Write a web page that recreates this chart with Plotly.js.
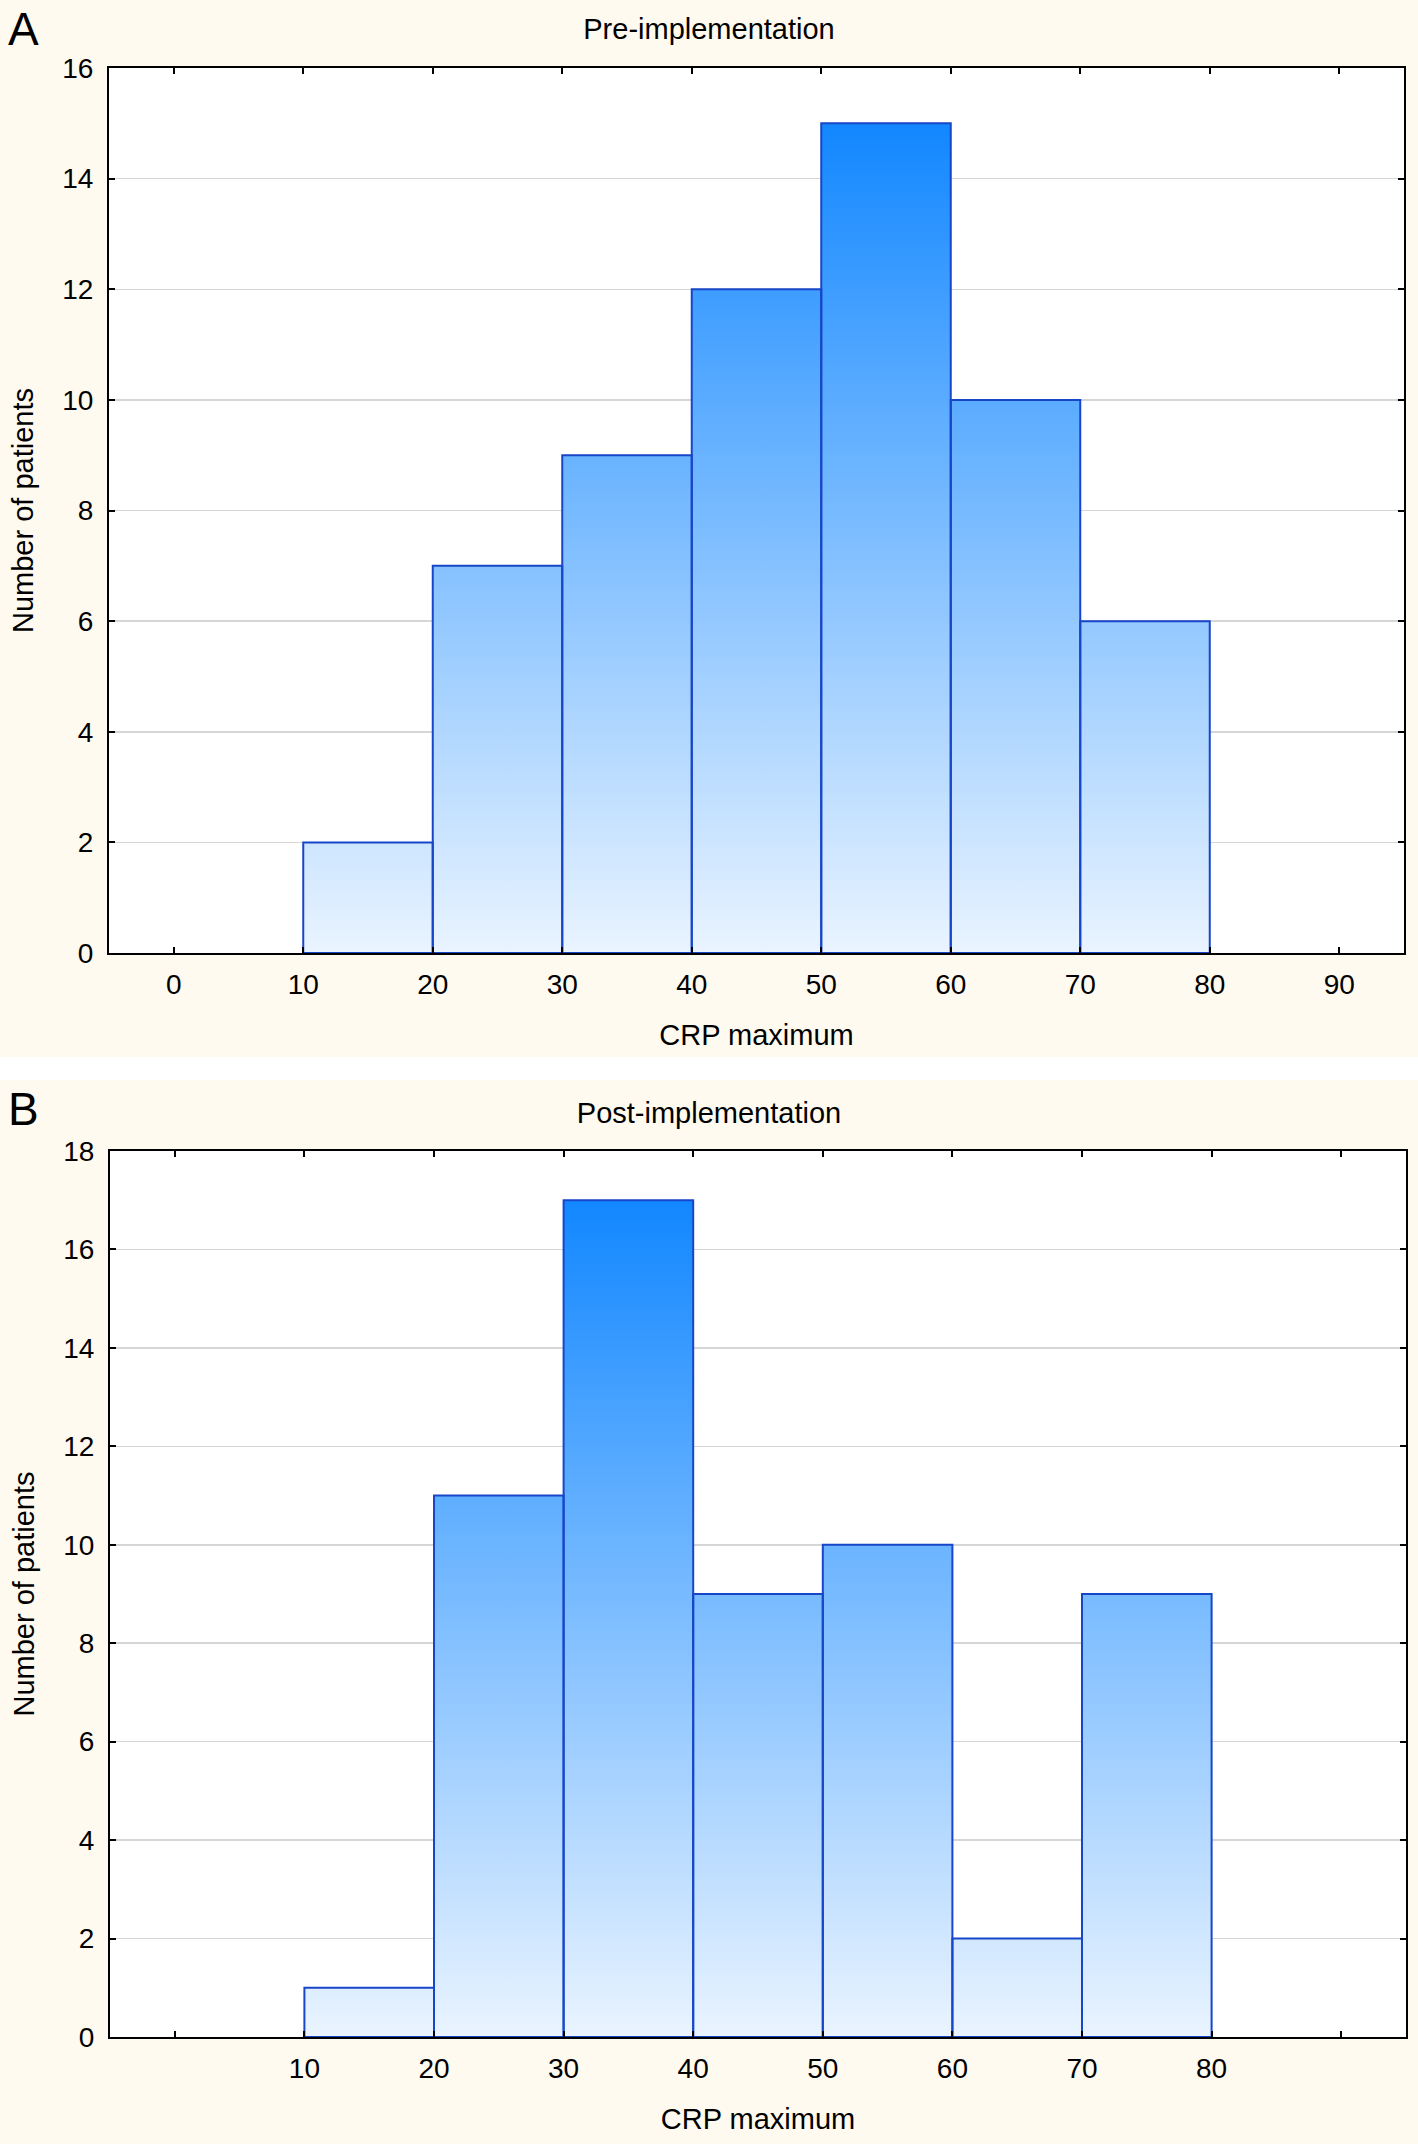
<!DOCTYPE html>
<html>
<head>
<meta charset="utf-8">
<script src="https://cdn.plot.ly/plotly-3.0.1.min.js"></script>
<style>
  body { margin: 0; background: #ffffff; }
  #plotA { width: 1418px; height: 1057px; }
  #gap { height: 23px; }
  #plotB { width: 1418px; height: 1064px; }
</style>
</head>
<body>
<div id="plotA"></div>
<div id="gap"></div>
<div id="plotB"></div>
<script>
// histogram bins (CRP maximum), width 10
const binStarts = [10, 20, 30, 40, 50, 60, 70];
const binWidth = 10;
const preCounts = [2, 7, 9, 12, 15, 10, 6];
const postCounts = [1, 11, 17, 9, 10, 2, 9];
const tickVals = [0, 10, 20, 30, 40, 50, 60, 70, 80, 90];
const preTickText = ["0", "10", "20", "30", "40", "50", "60", "70", "80", "90"];
const postTickText = ["", "10", "20", "30", "40", "50", "60", "70", "80", ""];

const font = "Liberation Sans, Arial, sans-serif";
const cream = "#fffaf0";

// one closed outline per bin, split with nulls so each one is filled on its own
function binOutline(counts) {
    let xs = [], ys = [];
    for (let i = 0; i < counts.length; i++) {
        let lo = binStarts[i], hi = binStarts[i] + binWidth;
        xs.push(lo, lo, hi, hi, lo, null);
        ys.push(0, counts[i], counts[i], 0, 0, null);
    }
    return {x: xs, y: ys};
}

function makeTrace(counts) {
    let p = binOutline(counts);
    return {
        x: p.x, y: p.y, type: "scatter", mode: "lines",
        fill: "toself",
        fillgradient: {
            type: "vertical",
            colorscale: [[0, "#eaf4ff"], [1, "#1287ff"]],
            start: 0, stop: Math.max(...counts)
        },
        line: {color: "#1746c8", width: 2},
        hoverinfo: "skip", showlegend: false
    };
}

function makeLayout(title, letter, ymax, tickText, m, titleY) {
    let h = m.h;
    return {
        width: 1418, height: h,
        paper_bgcolor: cream, plot_bgcolor: "#ffffff",
        margin: {l: m.l, r: m.r, t: m.t, b: m.b, pad: 0},
        font: {family: font, size: 28, color: "#000000"},
        showlegend: false,
        title: {text: title, font: {size: 29}, xref: "container", x: 0.5, yref: "container", y: titleY, yanchor: "middle"},
        xaxis: {
            range: [-5, 95], tickvals: tickVals, ticktext: tickText,
            ticks: "inside", ticklen: 6, tickwidth: 2, tickcolor: "#000",
            showline: true, linecolor: "#000", linewidth: 2, mirror: "ticks",
            showgrid: false, zeroline: false, ticklabelstandoff: 5,
            title: {text: "CRP maximum", font: {size: 29}, standoff: 26},
            automargin: false, fixedrange: true
        },
        yaxis: {
            range: [0, ymax], dtick: 2,
            ticks: "inside", ticklen: 6, tickwidth: 2, tickcolor: "#000",
            showline: true, linecolor: "#000", linewidth: 2, mirror: "ticks",
            showgrid: true, gridcolor: "#d6d6d6", gridwidth: 1.5, zeroline: false,
            ticklabelstandoff: 8,
            title: {text: "Number of patients", font: {size: 29}, standoff: 20},
            automargin: false, fixedrange: true
        },
        annotations: [{
            text: letter, xref: "paper", yref: "paper",
            x: (6 - m.l) / (1418 - m.l - m.r), y: 1 + (m.t - 1) / (h - m.t - m.b),
            xanchor: "left", yanchor: "top", showarrow: false,
            font: {size: 46, family: font}
        }]
    };
}

const config = {displayModeBar: false, staticPlot: true};

Plotly.newPlot("plotA", [makeTrace(preCounts)],
    makeLayout("Pre-implementation", "A", 16, preTickText, {h: 1057, l: 109, r: 14, t: 68, b: 104}, 1 - 29 / 1057), config);
Plotly.newPlot("plotB", [makeTrace(postCounts)],
    makeLayout("Post-implementation", "B", 18, postTickText, {h: 1064, l: 110, r: 12, t: 71, b: 107}, 1 - 33 / 1064), config);
</script>
</body>
</html>
